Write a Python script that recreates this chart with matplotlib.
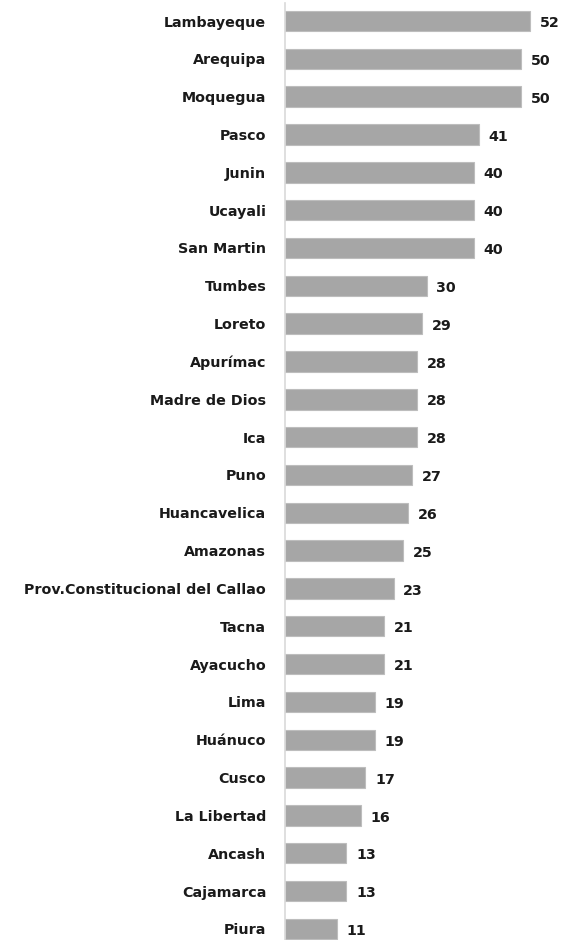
import matplotlib.pyplot as plt

regions = ["Lambayeque", "Arequipa", "Moquegua", "Pasco", "Junin", "Ucayali",
           "San Martin", "Tumbes", "Loreto", "Apurímac", "Madre de Dios", "Ica",
           "Puno", "Huancavelica", "Amazonas", "Prov.Constitucional del Callao",
           "Tacna", "Ayacucho", "Lima", "Huánuco", "Cusco", "La Libertad",
           "Ancash", "Cajamarca", "Piura"]
values = [52, 50, 50, 41, 40, 40, 40, 30, 29, 28, 28, 28, 27, 26, 25, 23,
          21, 21, 19, 19, 17, 16, 13, 13, 11]

W, H = 563, 940
fig = plt.figure(figsize=(W / 100, H / 100), dpi=100)
# axes placed in pixel terms of the reference
left, top, bottom = 285, 3, 940
ax = fig.add_axes([left / W, 0, 1 - left / W, (H - top) / H])

step = 37.83
first = 21
pos = list(range(len(regions)))
ax.barh(pos, values, height=0.54, color="#A6A6A6", edgecolor="#BDBDBD", linewidth=0.8)

ax.set_xlim(0, (W - left) / 4.72)
ax.set_ylim(24 + (bottom - (first + 24 * step)) / step, -(first - top) / step)

for i, v in enumerate(values):
    ax.annotate(str(v), (v, i), xytext=(7, -1.5), textcoords="offset points",
                ha="left", va="center", fontsize=10.3, fontweight="bold",
                family="DejaVu Sans", color="#1a1a1a")

ax.set_yticks(pos)
ax.set_yticklabels(regions, fontsize=10.3, fontweight="bold", color="#1a1a1a")
ax.tick_params(axis="y", length=0, pad=13.5)
ax.set_xticks([])
for s in ["top", "right", "bottom"]:
    ax.spines[s].set_visible(False)
ax.spines["left"].set_color("#D9D9D9")
ax.spines["left"].set_linewidth(1.2)

fig.savefig("out.png", dpi=100)
